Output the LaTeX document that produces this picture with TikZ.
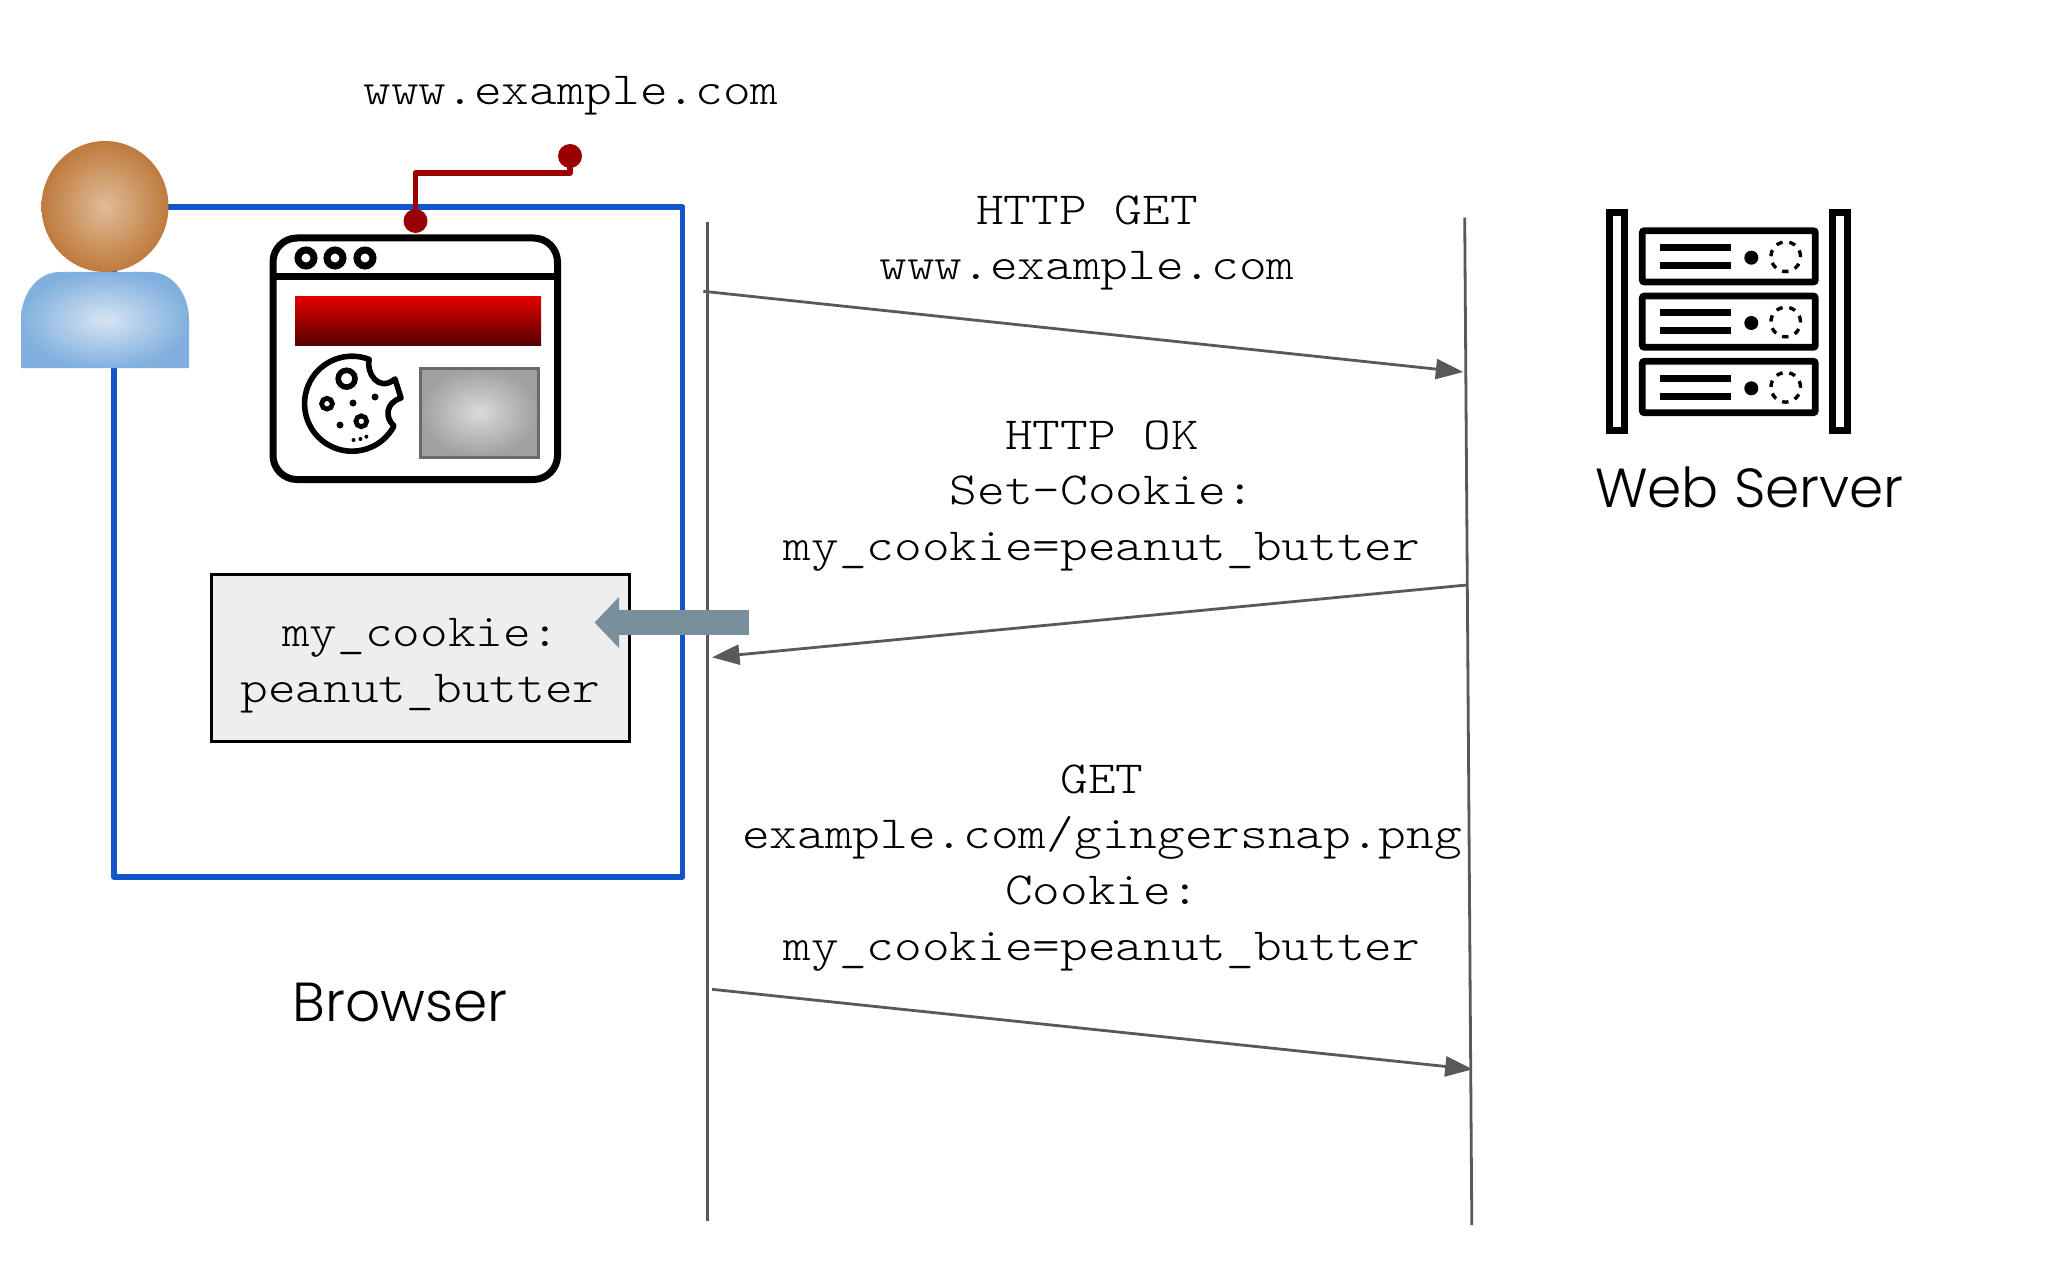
\documentclass[tikz,border=0pt]{standalone}
\usepackage{fontspec}
\usepackage{xcolor}
\usetikzlibrary{arrows.meta, positioning, calc, shapes.geometric}
\setmainfont{Poppins}[UprightFont=* Light]
\setmonofont[FakeStretch=1.146]{Latin Modern Mono Light}
\definecolor{framecolor}{RGB}{17, 85, 204}
\definecolor{pincolor}{RGB}{153, 0, 0}
\definecolor{wirecolor}{RGB}{89, 89, 89}
\definecolor{slatecolor}{RGB}{120, 144, 156}
\definecolor{boxcolor}{RGB}{238, 238, 238}

\begin{document}
\begin{tikzpicture}[
    x=0.5pt, y=-0.5pt,
    frame/.style={draw=framecolor, line width=2.8pt, line join=round},
    pindot/.style={circle, fill=pincolor, inner sep=0pt, minimum size=12pt},
    pinwire/.style={draw=pincolor, line width=2.8pt, line join=round},
    ink/.style={draw=black, line width=3.5pt},
    inkthin/.style={draw=black, line width=2.8pt},
    chip/.style={circle, fill=black, inner sep=0pt},
    bar/.style={draw=black, line width=3.35pt, rounded corners=1pt},
    rackline/.style={draw=black, line width=3.5pt},
    led/.style={circle, fill=black, inner sep=0pt, minimum size=7pt},
    spinner/.style={draw=black, line width=1.7pt, dash pattern=on 3.2pt off 3.4pt},
    lifeline/.style={draw=wirecolor, line width=1.4pt},
    message/.style={draw=wirecolor, line width=1.4pt, -{Triangle[length=13.75pt, width=10pt]}},
    monotext/.style={font=\fontsize{23}{27.9}\selectfont\ttfamily, align=center, inner sep=0pt},
    caption/.style={font=\fontsize{27.5}{30}\selectfont, inner sep=0pt}
]
    \useasboundingbox (0,0) rectangle (2048,1262);

    % Browser frame and user
    \draw[frame] (114,207) rectangle (682.5,877);
    \node[ellipse, inner sep=0pt, minimum width=63.5pt, minimum height=65.5pt, shading=radial, inner color={rgb,255:red,224;green,188;blue,152}, outer color={rgb,255:red,190;green,122;blue,60}] (head) at (105,206.5) {};
    \shade[inner color={rgb,255:red,214;green,228;blue,244}, outer color={rgb,255:red,130;green,176;blue,222}] (21,368) -- (21,320) .. controls (21,293) and (38,272) .. (60,272) -- (150,272) .. controls (172,272) and (189,293) .. (189,320) -- (189,368) -- cycle;

    % Pin and address
    \node[pindot] (pinlow) at (415.5,221) {};
    \node[pindot] (pinhigh) at (570,156) {};
    \coordinate (pinbend) at (570,173);
    \draw[pinwire] (pinlow.center) |- (pinbend) -- (pinhigh.center);
    \node[monotext] (address) at (571,96) {www.example.com};

    % Browser window
    \draw[ink, rounded corners=12pt] (273,238) rectangle (557.5,479.5);
    \draw[ink] (273,277) -- (557.5,277);
    \draw[ink] (306,258) circle (4pt);
    \draw[ink] (335,258) circle (4pt);
    \draw[ink] (365,258) circle (4pt);
    \node[inner sep=0pt, minimum width=123pt, minimum height=24.5pt, top color={rgb,255:red,224;green,0;blue,0}, bottom color={rgb,255:red,84;green,0;blue,0}] (banner) at (418,321.5) {};
    \node[draw=wirecolor!90, line width=1.5pt, inner sep=0pt, minimum width=59pt, minimum height=44.5pt, shading=radial, inner color={rgb,255:red,218;green,218;blue,218}, outer color={rgb,255:red,160;green,160;blue,160}] (picture) at (479,412.5) {};

    % Cookie
    \draw[inkthin, line join=round] (394,426) arc (28:291:47.5) .. controls (366,372) and (378,393) .. (395,379) -- (401,398) .. controls (385,403) and (385,418) .. (394,426) -- cycle;
    \draw[inkthin] (346.6,378.7) circle (4.2pt);
    \draw[inkthin, line width=2.4pt] (327,403.7) circle (2.7pt);
    \draw[inkthin, line width=2.4pt] (361.3,421.3) circle (2.7pt);
    \node[chip, minimum size=3.5pt] (crumba) at (353,403) {};
    \node[chip, minimum size=3.5pt] (crumbb) at (375,397) {};
    \node[chip, minimum size=3.5pt] (crumbc) at (340,425) {};
    \node[chip, minimum size=2pt] (crumbd) at (353.5,440) {};
    \node[chip, minimum size=2pt] (crumbe) at (360.4,439) {};
    \node[chip, minimum size=2pt] (crumbf) at (366.4,436.7) {};

    % Cookie store
    \node[draw=black, line width=1.5pt, fill=boxcolor, minimum width=209pt, minimum height=83.5pt] (store) at (420.5,658) {};
    \node[monotext] (storetext) at (420.5,666) {my\_cookie:\\peanut\_butter};
    \node[caption] (browser) at (400,1002) {Browser};

    % Lifelines
    \coordinate (browsertop) at (707.7,222);
    \coordinate (browserend) at (707.7,1220.7);
    \coordinate (servertop) at (1464.7,217.7);
    \coordinate (serverend) at (1471.8,1225);
    \draw[lifeline] (browsertop) -- (browserend);
    \draw[lifeline] (servertop) -- (serverend);

    % Messages
    \coordinate (geta) at (703.3,291.3);
    \coordinate (getb) at (1463.3,372);
    \coordinate (oka) at (1466.7,585);
    \coordinate (okb) at (712,657.3);
    \coordinate (pnga) at (712,989.3);
    \coordinate (pngb) at (1472.7,1069.3);
    \draw[message] (geta) -- (getb);
    \draw[message] (oka) -- (okb);
    \draw[message] (pnga) -- (pngb);
    \node[monotext] (getlabel) at (1087,243) {HTTP GET\\www.example.com};
    \node[monotext] (oklabel) at (1102,496) {HTTP OK\\Set-Cookie:\\my\_cookie=peanut\_butter};
    \node[monotext] (pnglabel) at (1102,868) {GET\\example.com/gingersnap.png\\Cookie:\\my\_cookie=peanut\_butter};

    % Store arrow
    \coordinate (storetail) at (748.7,622.5);
    \coordinate (storetip) at (594.5,622.5);
    \draw[draw=slatecolor, line width=12.5pt, -{Triangle[length=12.25pt, width=24.8pt]}] (storetail) -- (storetip);

    % Web server rack
    \draw[bar, rounded corners=0pt] (1609.3,212.3) rectangle (1624.3,430.7);
    \draw[bar, rounded corners=0pt] (1832.7,212.3) rectangle (1847.7,430.7);

    \draw[bar] (1642.3,230.7) rectangle (1815.3,282);
    \draw[rackline] (1660,247.3) -- (1731,247.3);
    \draw[rackline] (1660,265.3) -- (1731,265.3);
    \node[led] (leda) at (1751.3,257.7) {};
    \draw[spinner] (1785.7,256.7) circle (7.4pt);

    \draw[bar] (1642.3,296) rectangle (1815.3,347.3);
    \draw[rackline] (1660,312.7) -- (1731,312.7);
    \draw[rackline] (1660,330.7) -- (1731,330.7);
    \node[led] (ledb) at (1751.3,323) {};
    \draw[spinner] (1785.7,322) circle (7.4pt);

    \draw[bar] (1642.3,361.3) rectangle (1815.3,412.7);
    \draw[rackline] (1660,378) -- (1731,378);
    \draw[rackline] (1660,396) -- (1731,396);
    \node[led] (ledc) at (1751.3,388.3) {};
    \draw[spinner] (1785.7,387.3) circle (7.4pt);

    \node[caption] (serverlabel) at (1749.5,487.5) {Web Server};
\end{tikzpicture}
\end{document}
